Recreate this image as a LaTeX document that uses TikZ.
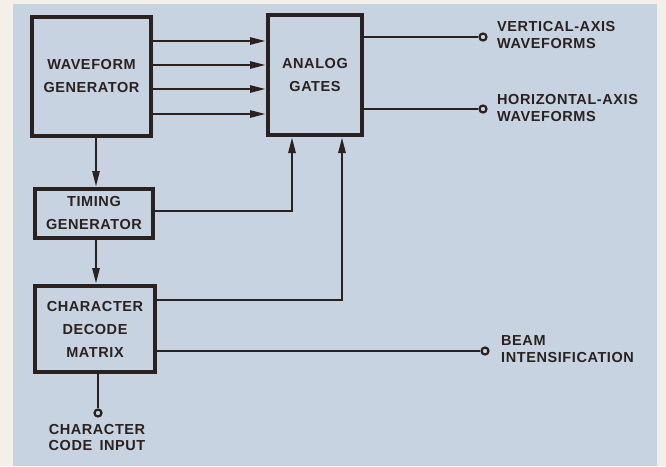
\documentclass[tikz,border=0pt]{standalone}
\usepackage{tikz}
\usetikzlibrary{arrows.meta,positioning,calc}
\usepackage{fontspec}
\setmainfont{Liberation Sans}
\newfontfamily\diagfont[LetterSpace=4]{Liberation Sans}
\usepackage{xcolor}
\definecolor{PanelBlue}{RGB}{199,211,225}
\definecolor{PaperWhite}{RGB}{243,239,233}
\definecolor{InkDark}{RGB}{42,33,33}

\begin{document}
\begin{tikzpicture}[x=1pt,y=-1pt,
  block/.style={draw=InkDark,line width=4pt,align=center,inner sep=2pt,text=InkDark,
                font=\diagfont\bfseries\fontsize{14.5}{23}\selectfont},
  sig/.style={draw=InkDark,line width=2.7pt},
  arr/.style={sig,-{Triangle[length=16pt,width=7pt]}},
  term/.style={circle,draw=InkDark,line width=2.2pt,fill=PanelBlue,
               minimum size=7pt,inner sep=0pt},
  lbl/.style={anchor=west,align=left,text=InkDark,inner sep=0pt,
              font=\diagfont\bfseries\fontsize{14.5}{16.5}\selectfont},
]
% paper and panel
\fill[PaperWhite] (0,0) rectangle (666,466);
\fill[PanelBlue] (13,4) rectangle (657,466);

\node[block,minimum width=119pt,minimum height=119pt] (wavegen) at (91.5,76.5) {WAVEFORM\\GENERATOR};
\node[block,minimum width=94pt,minimum height=120pt] (gates) at (315,75) {ANALOG\\GATES};
\node[block,minimum width=118pt,minimum height=49pt] (timing) at (94,213.5) {TIMING\\GENERATOR};
\node[block,minimum width=120pt,minimum height=86pt] (decode) at (95,329) {CHARACTER\\DECODE\\MATRIX};

% output terminals
\node[term] (vert) at (483,37) {};
\node[term] (horiz) at (483,109) {};
\node[term] (beam) at (485,351) {};
\node[term] (input) at (98,413) {};
\node[lbl] (vertlbl) at (497,35) {VERTICAL-AXIS\\WAVEFORMS};
\node[lbl] (horizlbl) at (497,108) {HORIZONTAL-AXIS\\WAVEFORMS};
\node[lbl] (beamlbl) at (501,349) {BEAM\\INTENSIFICATION};
\node[lbl,anchor=north,align=center] (inputlbl) at (97,424) {CHARACTER\\CODE\hspace{0.5em}INPUT};

% waveforms into the gates
\foreach \y in {41,65,89,114}
  \draw[arr] (wavegen.east |- 0,\y) -- (gates.west |- 0,\y);

\draw[sig] (gates.east |- vert) -- (vert);
\draw[sig] (gates.east |- horiz) -- (horiz);

\draw[arr] (wavegen.south -| 96,0) -- (timing.north -| 96,0);
\draw[arr] (timing.south -| 96,0) -- (decode.north -| 96,0);

\draw[arr] (timing.east |- 0,211) -| ([xshift=-23pt]gates.south);
\draw[arr] (decode.east |- 0,300) -| ([xshift=27pt]gates.south);

\draw[sig] (decode.east |- beam) -- (beam);
\draw[sig] (decode.south -| input) -- (input);
\end{tikzpicture}
\end{document}
